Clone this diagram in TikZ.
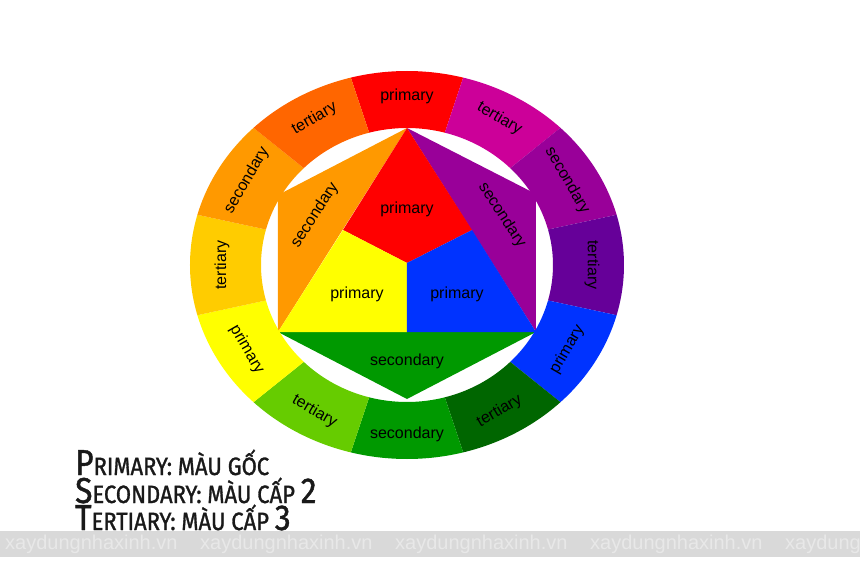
\documentclass[tikz,border=0pt]{standalone}
\usepackage{fontspec}
\setmainfont{Liberation Sans}
\newfontfamily\legendfont[FakeStretch=0.88,FakeBold=1.2]{Fira Sans}
\usepackage{tikz}

\definecolor{cRed}{HTML}{FF0000}
\definecolor{cRedOrange}{HTML}{FF6600}
\definecolor{cOrange}{HTML}{FF9900}
\definecolor{cYellowOrange}{HTML}{FFCC00}
\definecolor{cYellow}{HTML}{FFFF00}
\definecolor{cYellowGreen}{HTML}{66CC00}
\definecolor{cGreen}{HTML}{009900}
\definecolor{cBlueGreen}{HTML}{006600}
\definecolor{cBlue}{HTML}{0033FF}
\definecolor{cBlueViolet}{HTML}{660099}
\definecolor{cViolet}{HTML}{990099}
\definecolor{cRedViolet}{HTML}{CC0099}
\definecolor{cBand}{HTML}{D9D9D9}
\definecolor{cMark}{HTML}{E8E8E8}

\newcommand{\lcap}[1]{{\fontsize{36}{36}\selectfont #1}}
\newcommand{\lsmall}[1]{{\fontsize{25}{25}\selectfont #1}}

\begin{document}
\begin{tikzpicture}[
  x=1pt, y=1pt,
  font=\fontsize{16}{16}\selectfont,
  lbl/.style={inner sep=0pt, text=black},
  legend/.style={anchor=base west, inner sep=0pt, font=\legendfont, text=black!90},
  wmark/.style={anchor=west, inner sep=0pt, text=cMark, font=\fontsize{20}{20}\selectfont}
]
\useasboundingbox (-407,-308) rectangle (453,265);

% Inner hexagon
\coordinate (T)  at (0,137);
\coordinate (UL) at (-129,70);
\coordinate (LL) at (-129,-67);
\coordinate (UR) at (129,71);
\coordinate (LR) at (129,-67);
\coordinate (B)  at (0,-134);
\coordinate (C)  at (0,2);
\coordinate (P1) at (-64,35);
\coordinate (P2) at (65,35);
\coordinate (M)  at (0,-67);

\fill[cOrange] (UL) -- (T) -- (LL) -- cycle;
\fill[cViolet] (T) -- (UR) -- (LR) -- cycle;
\fill[cGreen] (LL) -- (LR) -- (B) -- cycle;
\fill[cRed] (T) -- (P2) -- (C) -- (P1) -- cycle;
\fill[cYellow] (P1) -- (C) -- (M) -- (LL) -- cycle;
\fill[cBlue] (C) -- (P2) -- (LR) -- (M) -- cycle;

\node[lbl] (redIn) at (0,56) {primary};
\node[lbl] (yellowIn) at (-50,-29) {primary};
\node[lbl] (blueIn) at (50,-29) {primary};
\node[lbl, rotate=57] (orangeIn) at (-92,50) {secondary};
\node[lbl, rotate=-57] (violetIn) at (95,50) {secondary};
\node[lbl] (greenIn) at (0,-96) {secondary};

% Outer ring
\foreach \a/\col/\txt/\rot [count=\i] in {
  90/cRed/primary/0, 60/cRedViolet/tertiary/-30, 30/cViolet/secondary/-60,
  0/cBlueViolet/tertiary/-90, -30/cBlue/primary/60, -60/cBlueGreen/tertiary/30,
  -90/cGreen/secondary/0, -120/cYellowGreen/tertiary/-30, -150/cYellow/primary/-60,
  180/cYellowOrange/tertiary/90, 150/cOrange/secondary/60, 120/cRedOrange/tertiary/30} {
  \fill[\col] ({\a-15}:217pt and 194pt)
    arc[start angle=\a-15, end angle=\a+15, x radius=217pt, y radius=194pt]
    -- ({\a+15}:146pt and 137pt)
    arc[start angle=\a+15, end angle=\a-15, x radius=146pt, y radius=137pt] -- cycle;
  \node[lbl, rotate=\rot] (ring\i) at (\a:185pt and 169pt) {\txt};
}

% Watermark band
\fill[cBand] (-407,-266) rectangle (453,-292);
\foreach \k in {0,...,4}
  \node[wmark] (mark\k) at ({-402+195*\k},-279) {xaydungnhaxinh.vn};

% Legend
\node[legend] (legendA) at (-332,-210) {\lcap{P}\lsmall{RIMARY: MÀU GỐC}};
\node[legend] (legendB) at (-332,-238) {\lcap{S}\lsmall{ECONDARY: MÀU CẤP }\lcap{2}};
\node[legend] (legendC) at (-332,-265) {\lcap{T}\lsmall{ERTIARY: MÀU CẤP }\lcap{3}};

\end{tikzpicture}
\end{document}
